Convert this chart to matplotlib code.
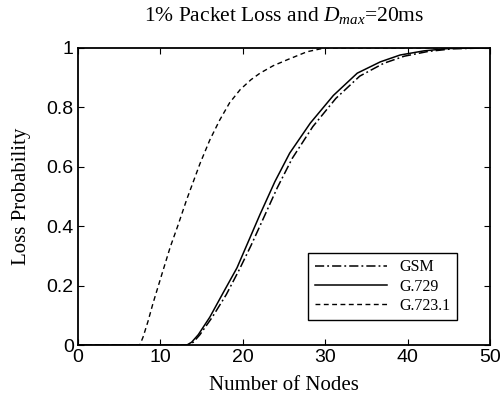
import matplotlib.pyplot as plt
import numpy as np

plt.rcParams['font.family'] = 'Liberation Serif'
plt.rcParams['mathtext.fontset'] = 'custom'
plt.rcParams['mathtext.rm'] = 'Liberation Serif'
plt.rcParams['mathtext.it'] = 'Liberation Serif:italic'

# values
nodes_gsm = [0, 13.4, 14.0, 14.8, 16.3, 18.0, 19.6, 21.0, 22.4, 24.2, 26.0, 28.5, 31.3, 34.2, 37.1, 39.6, 42.5, 45.5, 50]
loss_gsm = [0, 0, 0.01, 0.035, 0.094, 0.17, 0.255, 0.335, 0.42, 0.53, 0.628, 0.735, 0.83, 0.905, 0.948, 0.972, 0.988, 0.997, 1.0]

nodes_g729 = [0, 13.2, 13.8, 14.6, 16.0, 17.6, 19.3, 20.7, 22.1, 23.9, 25.7, 28.2, 31.0, 33.9, 36.7, 39.1, 42.0, 45.0, 50]
loss_g729 = [0, 0, 0.01, 0.035, 0.094, 0.175, 0.26, 0.35, 0.44, 0.55, 0.646, 0.747, 0.84, 0.915, 0.953, 0.976, 0.99, 0.998, 1.0]

nodes_g723 = [0, 7.5, 7.9, 8.5, 9.1, 10.2, 11.2, 12.1, 13.2, 14.8, 16.0, 17.2, 18.4, 19.7, 21.0, 22.1, 23.7, 25.4, 27.8, 30, 50]
loss_g723 = [0, 0, 0.027, 0.08, 0.14, 0.24, 0.33, 0.40, 0.49, 0.61, 0.69, 0.757, 0.815, 0.86, 0.893, 0.915, 0.94, 0.96, 0.987, 1.0, 1.0]

fig = plt.figure(figsize=(5.03, 3.99), dpi=100)
ax = fig.add_axes([0.155, 0.135, 0.819, 0.745])

ax.plot(nodes_gsm, loss_gsm, color='black', lw=1.1, linestyle=(0, (6, 2, 1.2, 2)), label='GSM')
ax.plot(nodes_g729, loss_g729, color='black', lw=1.1, linestyle='-', label='G.729')
ax.plot(nodes_g723, loss_g723, color='black', lw=1.0, linestyle=(0, (3.5, 2.5)), label='G.723.1')

ax.set_xlim(0, 50)
ax.set_ylim(0, 1)
ax.set_xticks([0, 10, 20, 30, 40, 50])
ax.set_yticks([0, 0.2, 0.4, 0.6, 0.8, 1])
ax.set_yticklabels(['0', '0.2', '0.4', '0.6', '0.8', '1'])
ax.tick_params(direction='in', top=True, right=True, length=4, labelsize=14, pad=3)
for lbl in ax.get_xticklabels() + ax.get_yticklabels():
    lbl.set_family('Liberation Sans')
for s in ax.spines.values():
    s.set_linewidth(1.3)

ax.set_xlabel('Number of Nodes', fontsize=15, labelpad=7)
ax.set_ylabel('Loss Probability', fontsize=15, labelpad=11)
ax.set_title('1% Packet Loss and $D_{max}$=20ms', fontsize=15.5, pad=19)

leg = ax.legend(loc='lower right', bbox_to_anchor=(0.92, 0.084), fontsize=11.5,
                handlelength=4.5, fancybox=False, framealpha=1, edgecolor='black',
                borderpad=0.4, labelspacing=0.2, handletextpad=0.8, borderaxespad=0)
leg.get_frame().set_linewidth(1.0)

fig.savefig('out.png', dpi=100)
